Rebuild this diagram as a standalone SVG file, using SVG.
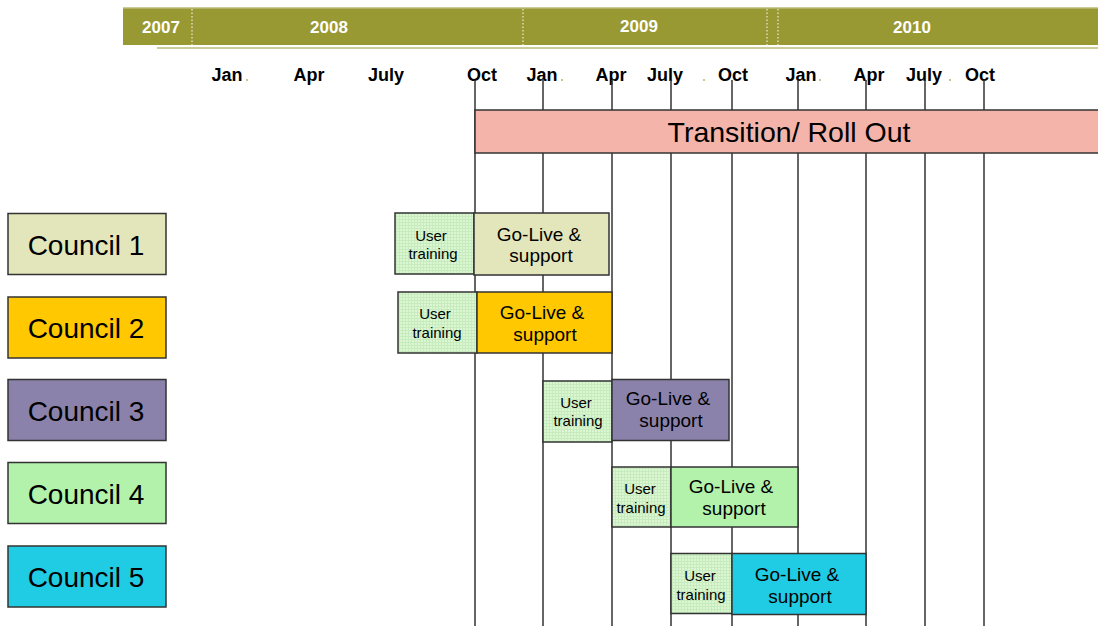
<svg xmlns="http://www.w3.org/2000/svg" width="1098" height="626" viewBox="0 0 1098 626">
<style>
text{font-family:"Liberation Sans",Arial,sans-serif;fill:#000}
.yr{font-weight:bold;font-size:17px;fill:#fff;text-anchor:middle}
.mo{font-weight:bold;font-size:18px;text-anchor:middle}
.sep{stroke:#fff;stroke-width:1;stroke-dasharray:1.5 2}
.vl{stroke:#333;stroke-width:1.5}
.box{stroke:#333;stroke-width:1.5}
.cl{font-size:28px;text-anchor:middle}
.gl{font-size:19px;text-anchor:middle}
.ut{font-size:15px;text-anchor:middle}
.dot{fill:#c8c890}
</style>
<defs>
<pattern id="grid" width="3" height="3" patternUnits="userSpaceOnUse">
<rect width="3" height="3" fill="#dcf6d4"/>
<rect width="3" height="1" fill="#c6ecbe"/>
<rect width="1" height="3" fill="#c6ecbe"/>
</pattern>
</defs>
<g id="timeline">
<rect x="123" y="7" width="975" height="38" fill="#999933"/>
<rect x="123" y="7" width="975" height="1.5" fill="#cccc99"/>
<rect x="157" y="47" width="941" height="2" fill="#cccc99"/>
<line class="sep" x1="192" y1="9" x2="192" y2="45"/>
<line class="sep" x1="523" y1="9" x2="523" y2="45"/>
<line class="sep" x1="767" y1="9" x2="767" y2="45"/>
<line class="sep" x1="778" y1="9" x2="778" y2="45"/>
<text class="yr" x="161" y="33">2007</text>
<text class="yr" x="329" y="33">2008</text>
<text class="yr" x="639" y="32">2009</text>
<text class="yr" x="912" y="33">2010</text>
<text class="mo" x="227" y="81">Jan</text>
<text class="mo" x="309" y="81">Apr</text>
<text class="mo" x="386" y="81">July</text>
<text class="mo" x="482" y="81">Oct</text>
<text class="mo" x="542" y="81">Jan</text>
<text class="mo" x="611" y="81">Apr</text>
<text class="mo" x="665" y="81">July</text>
<text class="mo" x="733" y="81">Oct</text>
<text class="mo" x="801" y="81">Jan</text>
<text class="mo" x="869" y="81">Apr</text>
<text class="mo" x="924" y="81">July</text>
<text class="mo" x="980" y="81">Oct</text>
<rect class="dot" x="246" y="79" width="2" height="2"/>
<rect class="dot" x="561" y="79" width="2" height="2"/>
<rect class="dot" x="703" y="79" width="2" height="2"/>
<rect class="dot" x="819" y="79" width="2" height="2"/>
<rect class="dot" x="949" y="79" width="2" height="2"/>
</g>
<g id="gridlines">
<line class="vl" x1="475" y1="80" x2="475" y2="626"/>
<line class="vl" x1="543" y1="80" x2="543" y2="626"/>
<line class="vl" x1="612" y1="80" x2="612" y2="626"/>
<line class="vl" x1="671" y1="80" x2="671" y2="626"/>
<line class="vl" x1="732" y1="80" x2="732" y2="626"/>
<line class="vl" x1="798" y1="80" x2="798" y2="626"/>
<line class="vl" x1="866" y1="80" x2="866" y2="626"/>
<line class="vl" x1="925" y1="80" x2="925" y2="626"/>
<line class="vl" x1="984" y1="80" x2="984" y2="626"/>
</g>
<g id="transition">
<rect class="box" x="475" y="110" width="630" height="43" fill="#f4b4aa"/>
<text x="789" y="142" font-size="28.5" text-anchor="middle">Transition/ Roll Out</text>
</g>
<g id="council1">
<rect class="box" x="8" y="213.5" width="158" height="61" fill="#e3e6ba"/>
<text class="cl" x="86" y="255">Council 1</text>
</g>
<g id="council2">
<rect class="box" x="8" y="297" width="158" height="61" fill="#ffc800"/>
<text class="cl" x="86" y="338">Council 2</text>
</g>
<g id="council3">
<rect class="box" x="8" y="379.5" width="158" height="61" fill="#8a82ab"/>
<text class="cl" x="86" y="421">Council 3</text>
</g>
<g id="council4">
<rect class="box" x="8" y="462.5" width="158" height="61" fill="#b2f2ab"/>
<text class="cl" x="86" y="504">Council 4</text>
</g>
<g id="council5">
<rect class="box" x="8" y="546" width="158" height="61" fill="#20cce3"/>
<text class="cl" x="86" y="587">Council 5</text>
</g>
<g id="training1">
<rect class="box" x="395" y="213" width="79" height="61" fill="url(#grid)"/>
<text class="ut" x="431" y="241">User</text>
<text class="ut" x="433" y="259">training</text>
</g>
<g id="golive1">
<rect class="box" x="474" y="213" width="135" height="62" fill="#e3e6ba"/>
<text class="gl" x="539" y="241">Go-Live &amp;</text>
<text class="gl" x="541" y="262">support</text>
</g>
<g id="training2">
<rect class="box" x="398" y="292" width="79" height="61" fill="url(#grid)"/>
<text class="ut" x="435" y="319">User</text>
<text class="ut" x="437" y="338">training</text>
</g>
<g id="golive2">
<rect class="box" x="477" y="292" width="135" height="61" fill="#ffc800"/>
<text class="gl" x="542" y="319">Go-Live &amp;</text>
<text class="gl" x="545" y="341">support</text>
</g>
<g id="training3">
<rect class="box" x="543" y="381" width="69" height="61" fill="url(#grid)"/>
<text class="ut" x="576" y="408">User</text>
<text class="ut" x="578" y="426">training</text>
</g>
<g id="golive3">
<rect class="box" x="612" y="379.5" width="117" height="61" fill="#8a82ab"/>
<text class="gl" x="668" y="405">Go-Live &amp;</text>
<text class="gl" x="671" y="427">support</text>
</g>
<g id="training4">
<rect class="box" x="612" y="467" width="59" height="60" fill="url(#grid)"/>
<text class="ut" x="640" y="494">User</text>
<text class="ut" x="641" y="513">training</text>
</g>
<g id="golive4">
<rect class="box" x="671" y="467" width="127" height="60" fill="#b2f2ab"/>
<text class="gl" x="731" y="493">Go-Live &amp;</text>
<text class="gl" x="734" y="515">support</text>
</g>
<g id="training5">
<rect class="box" x="671" y="553.5" width="61" height="60" fill="url(#grid)"/>
<text class="ut" x="700" y="581">User</text>
<text class="ut" x="701" y="600">training</text>
</g>
<g id="golive5">
<rect class="box" x="732" y="553.5" width="134" height="61" fill="#20cce3"/>
<text class="gl" x="797" y="581">Go-Live &amp;</text>
<text class="gl" x="800" y="603">support</text>
</g>
</svg>
